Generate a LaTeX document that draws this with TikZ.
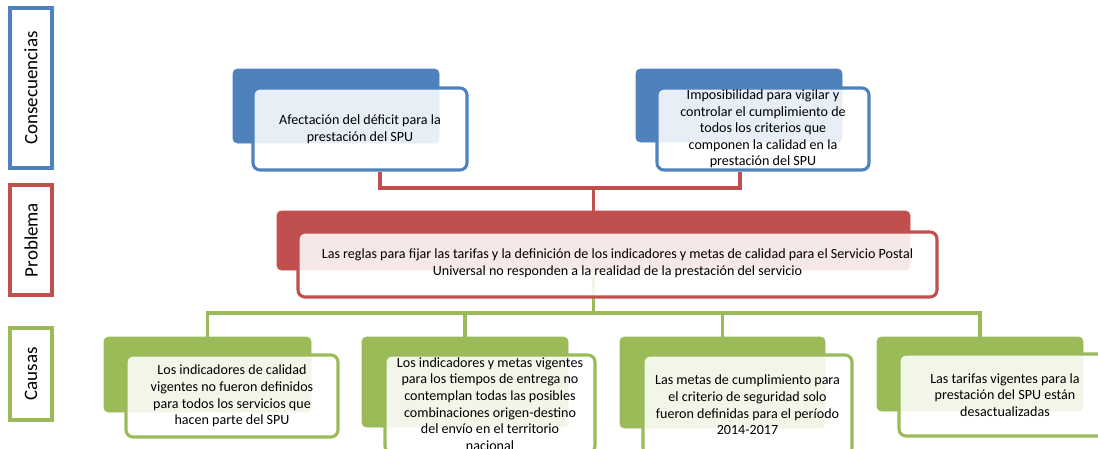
\documentclass[tikz,border=0pt]{standalone}
\usepackage{fontspec}
\setmainfont{Carlito}
\usetikzlibrary{positioning, fit, backgrounds}

\definecolor{consblue}{HTML}{4F81BD}
\definecolor{probred}{HTML}{C0504D}
\definecolor{causegreen}{HTML}{9BBB59}

\begin{document}
\begin{tikzpicture}[
  x=0.025cm, y=-0.025cm,
  font=\fontsize{10}{11.8}\selectfont,
  sidebox/.style={draw=#1, line width=2.2pt, fill=white, rotate=90, minimum height=1.05cm,
    inner sep=0pt, font=\fontsize{13.5}{16}\selectfont},
  backbox/.style={fill=#1, draw=#1, rounded corners=3pt, inner sep=0pt},
  frontbox/.style={draw=#1, line width=2.2pt, fill=white, fill opacity=0.87,
    rounded corners=5pt, inner sep=0pt},
  boxtext/.style={align=center, inner sep=0pt},
  link/.style={draw=#1, line width=2.2pt}
]
\useasboundingbox (0,0) rectangle (1098,448);
\clip (0,0) rectangle (1098,448);

% --- Row labels (left) ---
\node[sidebox=consblue, minimum width=4cm] (lcons) at (31,88) {Consecuencias};
\node[sidebox=probred, minimum width=2.75cm] (lprob) at (31,240) {Problema};
\node[sidebox=causegreen, minimum width=2.3cm] (lcaus) at (31,374) {Causas};

% --- Consecuencias ---
\node[backbox=consblue, fit={(233,69) (439,143)}] (c1back) {};
\node[frontbox=consblue, fit={(253,88) (467,170)}] (c1front) {};
\node[boxtext] (c1text) at (c1front.center)
  {Afectación del déficit para la\\prestación del SPU};
\node[backbox=consblue, fit={(636,69) (842,142)}] (c2back) {};
\node[frontbox=consblue, fit={(657,88) (869,170)}] (c2front) {};
\node[boxtext] (c2text) at (c2front.center)
  {Imposibilidad para vigilar y\\controlar el cumplimiento de\\todos los criterios que\\componen la calidad en la\\prestación del SPU};

% --- Problema ---
\node[backbox=probred, fit={(277,211) (910,270)}] (pback) {};
\node[frontbox=probred, fit={(298,232) (937,297)}] (pfront) {};
\node[boxtext] (ptext) at ([yshift=0.8pt]pfront.center)
  {Las reglas para fijar las tarifas y la definición de los indicadores y metas de calidad para el Servicio Postal\\Universal no responden a la realidad de la prestación del servicio};

% --- Causas ---
\node[backbox=causegreen, fit={(104,337) (311,412)}] (a1back) {};
\node[frontbox=causegreen, fit={(126,355) (338,437)}] (a1front) {};
\node[boxtext] (a1text) at (a1front.center)
  {Los indicadores de calidad\\vigentes no fueron definidos\\para todos los servicios que\\hacen parte del SPU};
\node[backbox=causegreen, fit={(362,337) (568,427)}] (a2back) {};
\node[frontbox=causegreen, fit={(385,355) (595,453)}] (a2front) {};
\node[boxtext] (a2text) at (a2front.center)
  {Los indicadores y metas vigentes\\para los tiempos de entrega no\\contemplan todas las posibles\\combinaciones origen-destino\\del envío en el territorio\\nacional};
\node[backbox=causegreen, fit={(620,337) (825,428)}] (a3back) {};
\node[frontbox=causegreen, fit={(643,355) (852,455)}] (a3front) {};
\node[boxtext] (a3text) at (a3front.center)
  {Las metas de cumplimiento para\\el criterio de seguridad solo\\fueron definidas para el período\\2014-2017};
\node[backbox=causegreen, fit={(877,337) (1083,411)}] (a4back) {};
\node[frontbox=causegreen, fit={(899,354) (1111,436)}] (a4front) {};
\node[boxtext] (a4text) at (a4front.center)
  {Las tarifas vigentes para la\\prestación del SPU están\\desactualizadas};

% --- Connectors, behind the boxes ---
\coordinate (c1foot) at (380,188);
\coordinate (c2foot) at (740,188);
\coordinate (gbus) at (594,313);
\begin{scope}[on background layer]
  \draw[link=probred] (c1front.south -| c1foot) -- (c1foot) -- (c2foot) -- (c2front.south -| c2foot);
  \draw[link=probred] (pback.north) -- (pback.north |- c1foot);
  \draw[link=causegreen] (pback.south) -- (pback.south |- gbus);
  \draw[link=causegreen] (a1back.north) -- (a1back.north |- gbus) -- (a4back.north |- gbus) -- (a4back.north);
  \foreach \c in {a2back, a3back}
    \draw[link=causegreen] (\c.north) -- (\c.north |- gbus);
\end{scope}

\end{tikzpicture}
\end{document}
